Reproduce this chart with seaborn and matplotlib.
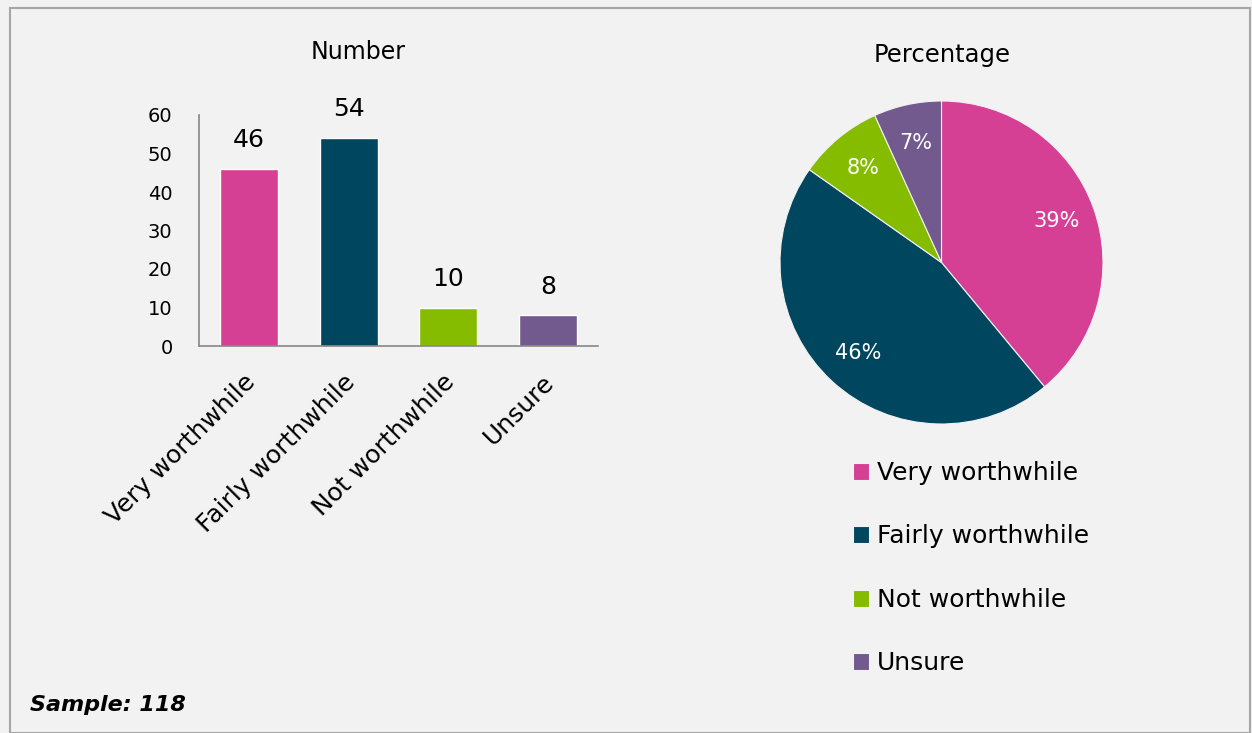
import matplotlib
matplotlib.use("Agg")
import matplotlib.pyplot as plt
import matplotlib.transforms as mtransforms
import seaborn as sns
import pandas as pd
from matplotlib.patches import Rectangle

categories = ["Very worthwhile", "Fairly worthwhile", "Not worthwhile", "Unsure"]
counts = [46, 54, 10, 8]
percent_labels = ["39%", "46%", "8%", "7%"]
yticks = [0, 10, 20, 30, 40, 50, 60]
colors = ["#D54095", "#00465F", "#85BC00", "#725A8E"]
sample_text = "Sample: 118"

sns.set_theme(style="white")
plt.rcParams["font.family"] = ["DejaVu Sans"]
plt.rcParams["text.color"] = "black"
BG = "#F2F2F2"

W, H = 1252, 733
fig = plt.figure(figsize=(W / 100, H / 100), dpi=100, facecolor=BG)

def fx(px):
    return px / W

def fy(py):
    return 1 - py / H

# border
fig.patches.append(Rectangle((fx(10), fy(733)), fx(1250) - fx(10), fy(8) - fy(733),
                             transform=fig.transFigure, fill=False,
                             edgecolor="#A6A6A6", linewidth=1.5, zorder=0))

# Bar chart
df = pd.DataFrame({"category": categories, "count": counts})
ax = fig.add_axes([fx(199), fy(346), fx(598) - fx(199), fy(115) - fy(346)])
ax.set_facecolor(BG)
sns.barplot(data=df, x="category", y="count", hue="category", palette=colors,
            width=0.58, legend=False, ax=ax, saturation=1)
ax.set_xlim(-0.5, 3.5)
ax.set_ylim(0, 60)
ax.set_yticks(yticks)
ax.set_xlabel("")
ax.set_ylabel("")
for s in ["top", "right"]:
    ax.spines[s].set_visible(False)
for s in ["left", "bottom"]:
    ax.spines[s].set_color("#868686")
    ax.spines[s].set_linewidth(1.2)
ax.tick_params(axis="y", length=0, labelsize=14, pad=19, labelcolor="black")
ax.tick_params(axis="x", length=0, labelsize=18, pad=17, labelcolor="black")
shift = mtransforms.ScaledTranslation(-6 / 100, 0, fig.dpi_scale_trans)
for lbl in ax.get_xticklabels():
    lbl.set_rotation(45)
    lbl.set_horizontalalignment("right")
    lbl.set_rotation_mode("anchor")
    lbl.set_transform(lbl.get_transform() + shift)
for cont in ax.containers:
    ax.bar_label(cont, fontsize=18, padding=12, color="black")
fig.text(fx(358), fy(52), "Number", ha="center", va="center", fontsize=17, color="black")

# Pie chart
cx, cy, r = 941.5, 262.5, 161.5
pax = fig.add_axes([fx(cx - r), fy(cy + r), fx(2 * r), fy(cy - r) - fy(cy + r)])
wedges, texts, autotexts = pax.pie(counts, colors=colors, startangle=90, counterclock=False,
                                   autopct=lambda p: f"{p:.0f}%", pctdistance=0.76,
                                   wedgeprops=dict(linewidth=0.8, edgecolor=BG),
                                   textprops=dict(color="white", fontsize=15))
pax.set_aspect("equal")
pax.set_xlim(-1, 1)
pax.set_ylim(-1, 1)
pax.axis("off")
fig.text(fx(942), fy(55), "Percentage", ha="center", va="center", fontsize=17.5, color="black")

leg = fig.legend(wedges, categories, loc="upper left",
                 bbox_to_anchor=(fx(843), fy(451)), frameon=False,
                 fontsize=18, handlelength=0.65, handleheight=0.65,
                 handletextpad=0.3, labelspacing=1.58, borderaxespad=0,
                 labelcolor="black")

fig.text(fx(30), fy(705), sample_text, ha="left", va="center",
         fontsize=16, fontweight="bold", fontstyle="italic", color="black")

fig.savefig("out.png", dpi=100, facecolor=BG)
